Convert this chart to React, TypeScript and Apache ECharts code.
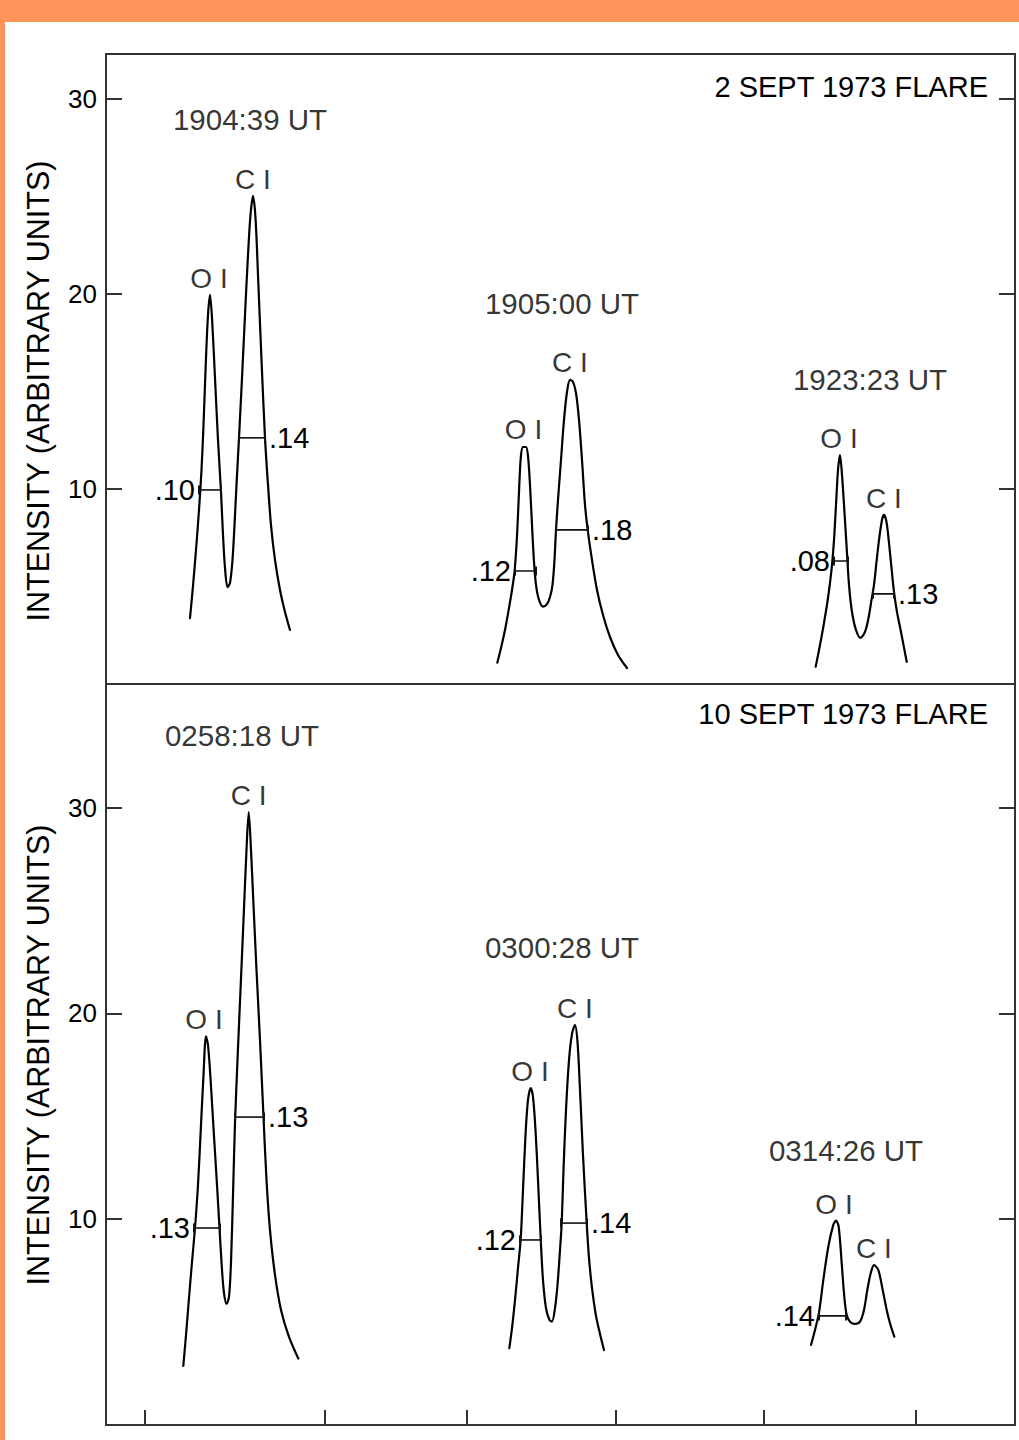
import React, { useEffect, useRef } from "react";
import * as echarts from "echarts";

const FONT = "'Liberation Sans', Arial, Helvetica, sans-serif";

// Y tick labels (both panels)
const Y_TICKS = [10, 20, 30];
// Bottom x-axis tick positions (arbitrary wavelength channel units)
const X_TICKS = [39, 219, 361, 510, 658, 810];

// ---- 2 SEPT 1973 flare spectra [channel, intensity] ----
const spec1904 = [
  [84, 3.38], [87, 5.03], [90, 6.87], [93, 8.92], [95.5, 10.97], [97.5, 13.28], [100, 16.72], [102, 18.92],
  [104, 19.95], [106, 18.77], [109, 15.69], [112, 12.51], [115, 9.85], [117, 7.64], [119, 5.95], [121.5, 4.97],
  [124, 5.18], [126.5, 6.36], [128.5, 8.15], [130.5, 10.21], [133, 12.62], [136, 15.69], [139, 18.92], [142, 22.0],
  [144.5, 24.05], [147, 25.03], [149.5, 23.9], [152, 20.97], [155.5, 16.62], [159, 12.62], [162, 10.21], [165, 8.15],
  [169, 6.36], [174, 4.82], [179, 3.69], [184, 2.77],
];
const spec1905 = [
  [391.3, 1.09], [395, 1.85], [399, 2.77], [403, 3.9], [406, 4.82], [408.5, 5.74], [410.5, 7.13], [412, 8.67],
  [413.5, 10.46], [415, 11.74], [417, 12.15], [420, 12.15], [422, 11.69], [424, 10.21], [426, 8.15], [428, 6.26],
  [430, 5.08], [433, 4.31], [437, 3.97], [441, 4.1], [444, 4.46], [446.5, 5.08], [448.5, 6.36], [450, 7.9],
  [452, 9.44], [455, 11.49], [458, 13.54], [461, 14.97], [464, 15.59], [467, 15.49], [470, 14.92], [473, 13.54],
  [476, 11.49], [479, 9.18], [482, 7.79], [486, 6.36], [491, 4.82], [497, 3.54], [504, 2.41], [512, 1.49], [521, 0.82],
];
const spec1923 = [
  [709.7, 0.89], [714, 2.0], [718, 3.13], [722, 4.41], [725.5, 5.85], [728, 7.38], [730, 9.18], [732, 10.97],
  [734, 11.74], [736, 10.72], [738, 9.18], [740.5, 7.13], [743, 5.08], [746, 3.69], [750, 2.77], [754.5, 2.36],
  [759, 2.67], [762.5, 3.38], [765.5, 4.31], [768, 5.08], [770.5, 6.26], [773, 7.38], [776, 8.41], [778, 8.67],
  [780.5, 8.31], [783, 7.23], [785.7, 5.85], [788, 4.72], [791, 3.69], [795, 2.67], [800.7, 1.14],
];

// ---- 10 SEPT 1973 flare spectra ----
const spec0258 = [
  [77.3, 2.87], [80, 4.37], [83, 6.17], [86, 7.92], [89, 9.57], [92, 11.66], [95, 14.58], [97.5, 17.0],
  [100, 18.88], [102, 18.46], [104.5, 16.86], [107.5, 14.43], [111, 11.66], [113.5, 9.57], [116, 7.53], [118, 6.41],
  [120.5, 5.88], [123, 6.22], [125, 7.92], [127, 11.17], [129, 14.67], [131.5, 17.73], [134.5, 21.13], [137.5, 24.53],
  [140.5, 27.94], [142.7, 29.78], [145, 27.94], [147.5, 25.26], [150.5, 22.11], [154, 18.7], [157.5, 14.96],
  [160.5, 11.9], [164, 9.47], [169, 7.29], [175, 5.59], [183, 4.28], [192.3, 3.23],
];
const spec0300 = [
  [403.3, 3.73], [406, 4.71], [409, 6.07], [412, 7.63], [414.7, 9.04], [417, 11.42], [419.5, 14.09], [422, 15.79],
  [424.7, 16.37], [427, 15.94], [429.5, 14.33], [432, 11.9], [434.7, 9.04], [437, 7.04], [440, 5.68], [443.5, 5.1],
  [446, 5.03], [449, 5.68], [451.5, 6.8], [454, 8.5], [455.7, 9.81], [457.5, 12.39], [460, 15.3], [463, 17.73],
  [466, 19.0], [469, 19.43], [471.5, 18.61], [474, 16.28], [477, 13.12], [480.7, 9.81], [483, 8.11], [486, 6.66],
  [490, 5.3], [494, 4.42], [498, 3.64],
];
const spec0314 = [
  [705, 3.89], [709, 4.62], [713, 5.46], [717.3, 7.04], [722.3, 8.66], [727.3, 9.72], [730, 9.93], [732.7, 9.63],
  [735.7, 7.86], [738.3, 6.23], [740.7, 5.34], [744, 5.02], [749, 4.91], [754, 5.02], [758, 5.59], [761.3, 6.56],
  [764.7, 7.37], [768, 7.77], [772.3, 7.53], [776.7, 6.56], [780.7, 5.59], [784, 4.94], [788.3, 4.29],
];

// Line identification labels at peak positions
const PEAKS_TOP = [
  { name: "O I", at: [103, 19.95] }, { name: "C I", at: [147, 25.03] },
  { name: "O I", at: [417.5, 12.21] }, { name: "C I", at: [464, 15.63] },
  { name: "O I", at: [733, 11.74] }, { name: "C I", at: [778, 8.67] },
];
const PEAKS_BOTTOM = [
  { name: "O I", at: [98, 18.88] }, { name: "C I", at: [142.7, 29.78] },
  { name: "O I", at: [424, 16.36] }, { name: "C I", at: [469, 19.43] },
  { name: "O I", at: [728, 9.93] }, { name: "C I", at: [768, 7.77] },
];

// FWHM bars (width labels)
const FWHM_TOP = [
  { label: ".10", y: 9.95, x: [93, 115], side: "left" },
  { label: ".14", y: 12.62, x: [133, 159], side: "right" },
  { label: ".12", y: 5.79, x: [409, 430], side: "left" },
  { label: ".18", y: 7.9, x: [450, 482], side: "right" },
  { label: ".08", y: 6.31, x: [728, 742], side: "left" },
  { label: ".13", y: 4.62, x: [767, 788], side: "right" },
];
const FWHM_BOTTOM = [
  { label: ".13", y: 9.57, x: [88, 114], side: "left" },
  { label: ".13", y: 14.96, x: [129, 158], side: "right" },
  { label: ".12", y: 8.99, x: [414, 435], side: "left" },
  { label: ".14", y: 9.81, x: [455, 481], side: "right" },
  { label: ".14", y: 5.3, x: [713, 740], side: "left" },
];

// Time stamps
const TIMES_TOP = [
  { text: "1904:39 UT", at: [144, 28.93] },
  { text: "1905:00 UT", at: [456, 19.49] },
  { text: "1923:23 UT", at: [764, 15.59] },
];
const TIMES_BOTTOM = [
  { text: "0258:18 UT", at: [136, 33.52] },
  { text: "0300:28 UT", at: [456, 23.22] },
  { text: "0314:26 UT", at: [740, 13.36] },
];

const TITLES = ["2 SEPT 1973 FLARE", "10 SEPT 1973 FLARE"];
const Y_NAME = "INTENSITY (ARBITRARY UNITS)";

const TOP_MAX = 32.3;
const BOTTOM_MAX = 36;
const X_MAX = 909;

function App() {
  const ref = useRef<HTMLDivElement>(null);

  useEffect(() => {
    if (!ref.current) return;
    const chart = echarts.init(ref.current, null, { renderer: "svg" });

    const textStyle = { color: "#000", fontSize: 28, fontFamily: FONT };

    const spectrum = (data: number[][], gi: number) => ({
      type: "line",
      xAxisIndex: gi,
      yAxisIndex: gi * 2,
      data,
      smooth: 0.3,
      symbol: "none",
      showSymbol: false,
      silent: true,
      lineStyle: { color: "#000", width: 2.2, join: "round", cap: "round" },
      z: 3,
    });

    const fwhm = (f: any, gi: number) => ({
      type: "line",
      xAxisIndex: gi,
      yAxisIndex: gi * 2,
      silent: true,
      symbol: "rect",
      symbolSize: [2, 9],
      showSymbol: true,
      itemStyle: { color: "#111" },
      lineStyle: { color: "#111", width: 1.6 },
      label: { ...textStyle, fontSize: 29 },
      data: [
        {
          value: [f.x[0], f.y],
          label: f.side === "left" ? { show: true, position: "left", distance: 3, formatter: f.label } : { show: false },
        },
        {
          value: [f.x[1], f.y],
          label: f.side === "right" ? { show: true, position: "right", distance: 3, formatter: f.label } : { show: false },
        },
      ],
      z: 4,
    });

    const peakLabels = (arr: any[], gi: number) => ({
      type: "scatter",
      xAxisIndex: gi,
      yAxisIndex: gi * 2,
      silent: true,
      symbolSize: 1,
      itemStyle: { color: "rgba(0,0,0,0)" },
      label: { show: true, position: "top", distance: 2, ...textStyle },
      data: arr.map((p) => ({ value: p.at, label: { formatter: p.name } })),
      z: 5,
    });

    const timeLabels = (arr: any[], gi: number) => ({
      type: "scatter",
      xAxisIndex: gi,
      yAxisIndex: gi * 2,
      silent: true,
      symbolSize: 1,
      itemStyle: { color: "rgba(0,0,0,0)" },
      label: { show: true, position: "inside", ...textStyle, fontSize: 29.5 },
      data: arr.map((p) => ({ value: p.at, label: { formatter: p.text } })),
      z: 5,
    });

    const yAxis = (gi: number, max: number, pos: "left" | "right") => ({
      type: "value",
      gridIndex: gi,
      min: 0,
      max,
      interval: 10,
      position: pos,
      axisLine: { show: false },
      axisTick: {
        show: true,
        inside: true,
        length: 16,
        lineStyle: { color: "#333", width: 2 },
        customValues: Y_TICKS,
      },
      axisLabel: {
        show: pos === "left",
        margin: 9,
        fontSize: 26,
        color: "#000",
        fontFamily: FONT,
        customValues: Y_TICKS,
        formatter: (v: number) => (Y_TICKS.indexOf(v) >= 0 ? String(v) : ""),
      },
      splitLine: { show: false },
    });

    const option = {
      animation: false,
      backgroundColor: "transparent",
      grid: [
        { left: 106, top: 54, width: 909, height: 630, show: true, borderColor: "#333", borderWidth: 2, backgroundColor: "transparent" },
        { left: 106, top: 684, width: 909, height: 741, show: true, borderColor: "#333", borderWidth: 2, backgroundColor: "transparent" },
      ],
      xAxis: [
        {
          type: "value", gridIndex: 0, min: 0, max: X_MAX,
          axisLine: { show: false }, axisTick: { show: false }, axisLabel: { show: false }, splitLine: { show: false },
        },
        {
          type: "value", gridIndex: 1, min: 0, max: X_MAX,
          axisLine: { show: false },
          axisTick: { show: true, inside: true, length: 15, lineStyle: { color: "#333", width: 2 }, customValues: X_TICKS },
          axisLabel: { show: false },
          splitLine: { show: false },
        },
      ],
      yAxis: [
        yAxis(0, TOP_MAX, "left"),
        yAxis(0, TOP_MAX, "right"),
        yAxis(1, BOTTOM_MAX, "left"),
        yAxis(1, BOTTOM_MAX, "right"),
      ],
      graphic: [
        {
          type: "text", x: 988, y: 87,
          style: { text: TITLES[0], font: `29px ${FONT}`, fill: "#000", textAlign: "right", textVerticalAlign: "middle" },
        },
        {
          type: "text", x: 988, y: 714,
          style: { text: TITLES[1], font: `29px ${FONT}`, fill: "#000", textAlign: "right", textVerticalAlign: "middle" },
        },
        {
          type: "text", x: 38, y: 391, rotation: Math.PI / 2,
          style: { text: Y_NAME, font: `30.5px ${FONT}`, fill: "#000", textAlign: "center", textVerticalAlign: "middle" },
        },
        {
          type: "text", x: 38, y: 1055, rotation: Math.PI / 2,
          style: { text: Y_NAME, font: `30.5px ${FONT}`, fill: "#000", textAlign: "center", textVerticalAlign: "middle" },
        },
      ],
      series: [
        spectrum(spec1904, 0),
        spectrum(spec1905, 0),
        spectrum(spec1923, 0),
        spectrum(spec0258, 1),
        spectrum(spec0300, 1),
        spectrum(spec0314, 1),
        ...FWHM_TOP.map((f) => fwhm(f, 0)),
        ...FWHM_BOTTOM.map((f) => fwhm(f, 1)),
        peakLabels(PEAKS_TOP, 0),
        peakLabels(PEAKS_BOTTOM, 1),
        timeLabels(TIMES_TOP, 0),
        timeLabels(TIMES_BOTTOM, 1),
      ],
    };

    chart.setOption(option as any);
    return () => chart.dispose();
  }, []);

  return (
    <div style={{ position: "absolute", left: 0, top: 0, width: 1019, height: 1440, background: "#FF9558", overflow: "hidden" }}>
      <div style={{ position: "absolute", left: 5, top: 22, width: 1014, height: 1418, background: "#ffffff" }} />
      <div ref={ref} style={{ position: "absolute", left: 0, top: 0, width: 1019, height: 1440 }} />
    </div>
  );
}

export default App;
